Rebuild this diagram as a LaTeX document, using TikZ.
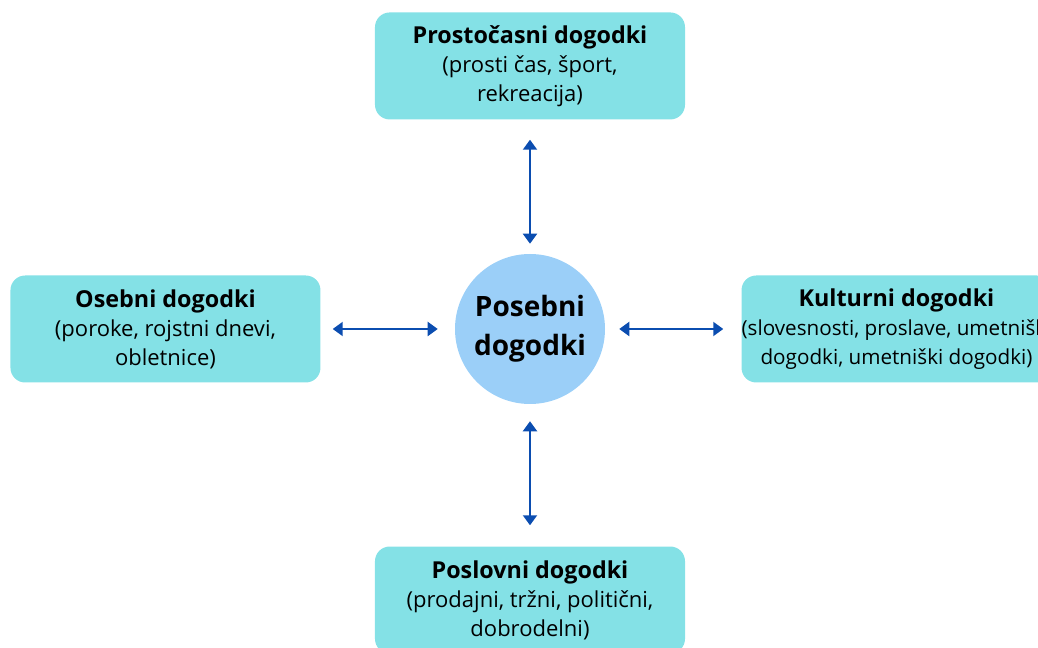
\documentclass[tikz,border=0pt]{standalone}
\usepackage{fontspec}
\setmainfont{Open Sans}
\usepackage{xcolor}
\usepackage{tikz}
\usetikzlibrary{positioning,arrows.meta}

\definecolor{boxcyan}{HTML}{84E1E6}
\definecolor{hubblue}{HTML}{9BCFF8}
\definecolor{linkblue}{HTML}{0B4DB0}

\newcommand{\kindtitle}[1]{{\fontsize{17.5}{21.75}\selectfont\bfseries #1}}

\begin{document}
\begin{tikzpicture}[
  font=\fontsize{16.5}{21.75}\selectfont,
  hub/.style={circle,fill=hubblue,minimum size=112.5pt,inner sep=0pt,
              align=center,font=\fontsize{21}{29}\selectfont\bfseries},
  kind/.style={rectangle,fill=boxcyan,rounded corners=11pt,minimum width=232.5pt,
               minimum height=80.25pt,align=center,inner sep=0pt},
  link/.style={{Triangle[length=7.5pt,width=10.5pt]}-{Triangle[length=7.5pt,width=10.5pt]},
               line width=1.5pt,draw=linkblue,fill=linkblue}
]
\useasboundingbox (-397.5pt,246.75pt) rectangle (381pt,-239.25pt);

% ---- centre ----
\node[hub] (hub) at (0,0) {Posebni\\dogodki};

% ---- four kinds ----
\node[kind,above=100.5pt of hub] (leisure)
  {\kindtitle{Prostočasni dogodki}\\(prosti čas, šport,\\rekreacija)};
\node[kind,below=106.5pt of hub] (business)
  {\kindtitle{Poslovni dogodki}\\(prodajni, tržni, politični,\\dobrodelni)};
\node[kind,left=100.5pt of hub] (personal)
  {\kindtitle{Osebni dogodki}\\(poroke, rojstni dnevi,\\obletnice)};
\node[kind,right=102pt of hub] (culture)
  {\kindtitle{Kulturni dogodki}\\{\fontsize{15.5}{21.75}\selectfont(slovesnosti, proslave, umetniški}\\
   {\fontsize{15.5}{21.75}\selectfont dogodki, umetniški dogodki)}};

% ---- links ----
\draw[link,shorten <=15pt,shorten >=7.5pt] (leisure) -- (hub);
\draw[link,shorten <=12.75pt,shorten >=15.75pt] (hub) -- (business);
\draw[link,shorten <=9pt,shorten >=12.75pt] (personal) -- (hub);
\draw[link,shorten <=10.5pt,shorten >=13.5pt] (hub) -- (culture);

\end{tikzpicture}
\end{document}
